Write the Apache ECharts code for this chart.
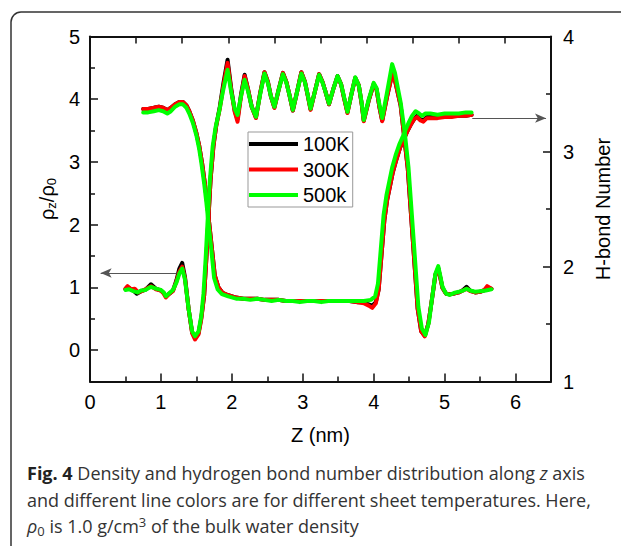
<!DOCTYPE html>
<html><head><meta charset="utf-8">
<script src="https://cdn.jsdelivr.net/npm/echarts@6/dist/echarts.min.js"></script>
<style>html,body{margin:0;padding:0;background:#fff}#c{width:621px;height:546px}</style>
</head><body><div id="c"></div>
<script>
// ---------- data ----------
const seriesNames = ['100K', '300K', '500k'];
const xLabels = [0, 1, 2, 3, 4, 5, 6];
const xMinor = [0.5, 1.5, 2.5, 3.5, 4.5, 5.5];
const leftLabels = [0, 1, 2, 3, 4, 5];
const leftMinor = [0.5, 1.5, 2.5, 3.5, 4.5];
const rightLabels = [1, 2, 3, 4];
const rightMinor = [1.5, 2.5, 3.5];

// density rho_z/rho_0 vs Z (nm)
const density500 = [[0.50,0.96],[0.55,0.97],[0.61,0.94],[0.67,0.92],[0.72,0.95],[0.78,0.96],[0.86,1.01],[0.93,0.98],[1.00,0.96],[1.04,0.92],[1.07,0.86],[1.12,0.91],[1.17,0.96],[1.22,1.08],[1.26,1.22],[1.30,1.30],[1.34,1.12],[1.39,0.66],[1.44,0.30],[1.48,0.22],[1.53,0.30],[1.57,0.55],[1.60,0.90],[1.63,1.45],[1.66,2.10],[1.69,2.70],[1.73,3.25],[1.77,3.55],[1.82,3.80],[1.87,4.10],[1.94,4.47],[1.99,4.12],[2.04,3.85],[2.08,3.75],[2.13,4.05],[2.18,4.31],[2.23,4.12],[2.28,3.88],[2.34,3.72],[2.40,4.08],[2.46,4.41],[2.51,4.25],[2.55,4.05],[2.60,3.88],[2.66,4.15],[2.72,4.40],[2.77,4.26],[2.81,4.08],[2.86,3.83],[2.92,4.12],[2.98,4.41],[3.03,4.27],[3.07,4.07],[3.11,3.85],[3.17,4.12],[3.23,4.39],[3.28,4.26],[3.32,4.12],[3.37,3.93],[3.43,4.16],[3.49,4.37],[3.54,4.24],[3.58,4.05],[3.63,3.80],[3.69,4.10],[3.74,4.35],[3.79,4.22],[3.83,3.95],[3.86,3.67],[3.93,4.00],[4.00,4.26],[4.04,4.18],[4.08,3.92],[4.12,3.70],[4.19,4.12],[4.26,4.56],[4.30,4.42],[4.34,4.18],[4.38,3.95],[4.44,3.45],[4.49,2.92],[4.54,2.13],[4.59,1.33],[4.63,0.69],[4.68,0.34],[4.73,0.24],[4.78,0.45],[4.82,0.80],[4.87,1.22],[4.91,1.34],[4.94,1.18],[4.97,1.01],[5.02,0.90],[5.07,0.88],[5.13,0.91],[5.20,0.93],[5.26,0.95],[5.31,0.98],[5.36,0.95],[5.43,0.93],[5.50,0.94],[5.58,0.95],[5.66,0.97]];
const density300 = [[0.50,0.98],[0.53,1.02],[0.58,0.97],[0.63,0.98],[0.68,0.92],[0.73,0.94],[0.78,0.97],[0.86,1.02],[0.93,0.97],[1.00,0.95],[1.04,0.90],[1.07,0.84],[1.12,0.90],[1.17,0.94],[1.22,1.10],[1.26,1.25],[1.30,1.33],[1.34,1.14],[1.39,0.66],[1.44,0.27],[1.48,0.17],[1.53,0.25],[1.57,0.50],[1.61,0.88],[1.64,1.45],[1.67,2.10],[1.70,2.72],[1.74,3.25],[1.78,3.58],[1.83,3.85],[1.88,4.20],[1.94,4.58],[1.99,4.15],[2.04,3.80],[2.08,3.64],[2.13,4.05],[2.18,4.37],[2.23,4.15],[2.28,3.88],[2.34,3.70],[2.40,4.10],[2.46,4.43],[2.51,4.27],[2.55,4.05],[2.60,3.86],[2.66,4.15],[2.72,4.42],[2.77,4.27],[2.81,4.08],[2.86,3.82],[2.92,4.12],[2.98,4.43],[3.03,4.28],[3.07,4.06],[3.11,3.83],[3.17,4.12],[3.23,4.40],[3.28,4.27],[3.32,4.12],[3.37,3.92],[3.43,4.16],[3.49,4.36],[3.54,4.24],[3.58,4.03],[3.63,3.78],[3.69,4.10],[3.74,4.34],[3.79,4.22],[3.83,3.93],[3.86,3.65],[3.93,3.98],[4.00,4.24],[4.04,4.16],[4.08,3.88],[4.12,3.65],[4.19,4.05],[4.26,4.39],[4.30,4.30],[4.34,4.10],[4.38,3.90],[4.43,3.40],[4.48,2.90],[4.53,2.10],[4.58,1.30],[4.62,0.66],[4.67,0.30],[4.72,0.22],[4.77,0.42],[4.82,0.80],[4.87,1.20],[4.91,1.30],[4.94,1.15],[4.97,0.99],[5.02,0.90],[5.07,0.89],[5.13,0.90],[5.20,0.92],[5.26,0.95],[5.31,0.98],[5.36,0.94],[5.43,0.92],[5.50,0.93],[5.56,0.96],[5.60,1.02],[5.66,0.98]];
const density100 = [[0.50,0.97],[0.55,0.99],[0.61,0.95],[0.66,0.90],[0.72,0.94],[0.78,0.96],[0.86,1.05],[0.93,0.98],[1.00,0.95],[1.04,0.91],[1.07,0.86],[1.12,0.90],[1.17,0.95],[1.22,1.12],[1.26,1.30],[1.30,1.39],[1.34,1.16],[1.39,0.66],[1.44,0.28],[1.48,0.20],[1.53,0.27],[1.57,0.52],[1.61,0.88],[1.64,1.45],[1.67,2.10],[1.70,2.72],[1.74,3.25],[1.78,3.58],[1.83,3.88],[1.88,4.25],[1.94,4.63],[1.99,4.18],[2.04,3.82],[2.08,3.68],[2.13,4.08],[2.18,4.39],[2.23,4.15],[2.28,3.88],[2.34,3.71],[2.40,4.10],[2.46,4.43],[2.51,4.27],[2.55,4.05],[2.60,3.87],[2.66,4.15],[2.72,4.42],[2.77,4.27],[2.81,4.08],[2.86,3.82],[2.92,4.12],[2.98,4.43],[3.03,4.28],[3.07,4.06],[3.11,3.84],[3.17,4.12],[3.23,4.40],[3.28,4.27],[3.32,4.12],[3.37,3.92],[3.43,4.16],[3.49,4.37],[3.54,4.24],[3.58,4.03],[3.63,3.79],[3.69,4.10],[3.74,4.34],[3.79,4.22],[3.83,3.93],[3.86,3.66],[3.93,3.98],[4.00,4.24],[4.04,4.16],[4.08,3.88],[4.12,3.66],[4.19,4.05],[4.26,4.40],[4.30,4.30],[4.34,4.10],[4.38,3.90],[4.43,3.40],[4.48,2.90],[4.53,2.10],[4.58,1.30],[4.62,0.66],[4.67,0.30],[4.72,0.23],[4.77,0.42],[4.82,0.80],[4.87,1.20],[4.91,1.31],[4.94,1.15],[4.97,0.99],[5.02,0.90],[5.07,0.89],[5.13,0.90],[5.20,0.92],[5.26,0.96],[5.31,1.01],[5.36,0.95],[5.43,0.92],[5.50,0.93],[5.58,0.96],[5.66,0.98]];

// H-bond number vs Z (nm)
const hbond500 = [[0.75,3.34],[0.82,3.34],[0.90,3.35],[0.97,3.36],[1.03,3.35],[1.09,3.33],[1.14,3.35],[1.20,3.39],[1.26,3.41],[1.31,3.41],[1.36,3.38],[1.40,3.33],[1.45,3.25],[1.50,3.14],[1.54,3.02],[1.57,2.90],[1.61,2.72],[1.64,2.56],[1.67,2.38],[1.71,2.15],[1.75,1.90],[1.80,1.80],[1.86,1.76],[1.95,1.74],[2.06,1.72],[2.16,1.72],[2.26,1.71],[2.36,1.72],[2.46,1.71],[2.56,1.70],[2.66,1.71],[2.76,1.70],[2.86,1.70],[2.96,1.69],[3.06,1.70],[3.16,1.70],[3.26,1.69],[3.36,1.70],[3.46,1.70],[3.56,1.70],[3.66,1.70],[3.76,1.70],[3.86,1.70],[3.96,1.71],[4.02,1.74],[4.06,1.85],[4.10,2.15],[4.14,2.45],[4.18,2.62],[4.22,2.74],[4.26,2.86],[4.31,2.97],[4.36,3.06],[4.41,3.13],[4.45,3.19],[4.50,3.26],[4.54,3.31],[4.59,3.35],[4.64,3.33],[4.68,3.31],[4.73,3.33],[4.80,3.33],[4.90,3.32],[5.00,3.33],[5.10,3.33],[5.20,3.33],[5.30,3.34],[5.38,3.34]];
const hbond300 = [[0.75,3.37],[0.82,3.37],[0.90,3.38],[0.97,3.39],[1.03,3.38],[1.09,3.36],[1.14,3.38],[1.20,3.41],[1.26,3.43],[1.31,3.43],[1.36,3.40],[1.40,3.35],[1.45,3.27],[1.50,3.16],[1.54,3.05],[1.58,2.90],[1.62,2.72],[1.65,2.56],[1.68,2.38],[1.72,2.15],[1.76,1.92],[1.81,1.82],[1.87,1.77],[1.95,1.75],[2.06,1.73],[2.16,1.72],[2.26,1.72],[2.36,1.72],[2.46,1.71],[2.56,1.71],[2.66,1.71],[2.76,1.70],[2.86,1.70],[2.96,1.70],[3.06,1.70],[3.16,1.70],[3.26,1.70],[3.36,1.70],[3.46,1.70],[3.56,1.70],[3.66,1.70],[3.76,1.69],[3.86,1.68],[3.93,1.66],[3.98,1.64],[4.03,1.68],[4.07,1.80],[4.11,2.10],[4.15,2.40],[4.19,2.58],[4.23,2.70],[4.27,2.82],[4.32,2.93],[4.37,3.03],[4.42,3.10],[4.47,3.17],[4.52,3.23],[4.57,3.28],[4.61,3.30],[4.66,3.27],[4.70,3.26],[4.75,3.29],[4.82,3.29],[4.90,3.29],[5.00,3.30],[5.10,3.30],[5.20,3.31],[5.30,3.31],[5.38,3.32]];
const hbond100 = [[0.75,3.37],[0.82,3.37],[0.90,3.38],[0.97,3.39],[1.03,3.38],[1.09,3.36],[1.14,3.38],[1.20,3.41],[1.26,3.43],[1.31,3.43],[1.36,3.40],[1.40,3.35],[1.45,3.27],[1.50,3.16],[1.54,3.05],[1.58,2.90],[1.62,2.72],[1.65,2.56],[1.68,2.38],[1.72,2.15],[1.76,1.92],[1.81,1.82],[1.87,1.77],[1.95,1.75],[2.06,1.73],[2.16,1.72],[2.26,1.72],[2.36,1.72],[2.46,1.71],[2.56,1.71],[2.66,1.71],[2.76,1.70],[2.86,1.70],[2.96,1.70],[3.06,1.70],[3.16,1.70],[3.26,1.70],[3.36,1.70],[3.46,1.70],[3.56,1.70],[3.66,1.70],[3.76,1.69],[3.86,1.69],[3.93,1.67],[3.98,1.66],[4.03,1.69],[4.07,1.80],[4.11,2.10],[4.15,2.40],[4.19,2.58],[4.23,2.70],[4.27,2.82],[4.32,2.93],[4.37,3.03],[4.42,3.10],[4.47,3.17],[4.52,3.23],[4.57,3.28],[4.61,3.31],[4.66,3.28],[4.70,3.27],[4.75,3.30],[4.82,3.30],[4.90,3.30],[5.00,3.30],[5.10,3.31],[5.20,3.31],[5.30,3.31],[5.38,3.32]];

// annotation arrows (data units)
const densityArrow = [[1.22, 1.23], [0.15, 1.23]];
const hbondArrow = [[5.39, 3.29], [6.43, 3.29]];

// ---------- chart ----------
const FONT = 'Liberation Sans, Arial, sans-serif';
const CAP = 'Open Sans, Noto Sans, sans-serif';
const CAPSIZE = 18;
const colors = ['#000000', '#ff0000', '#00ff00'];
const AX = { color: '#111', width: 2 };

function lineSeries(name, data, yIdx, color, z, extra) {
  return Object.assign({
    name, type: 'line', data, xAxisIndex: 0, yAxisIndex: yIdx,
    symbol: 'none', showSymbol: false, smooth: false, silent: true,
    lineStyle: { color, width: 4, join: 'round', cap: 'round' },
    itemStyle: { color }, z, animation: false
  }, extra || {});
}
function arrowMark(pts) {
  return { markLine: {
    silent: true, animation: false, symbol: ['none', 'arrow'], symbolSize: [7, 11],
    lineStyle: { color: '#555', width: 1, type: 'solid' }, label: { show: false },
    data: [[{ coord: pts[0] }, { coord: pts[1] }]]
  } };
}

const chart = echarts.init(document.getElementById('c'), null, { renderer: 'svg' });
chart.setOption({
  animation: false,
  backgroundColor: '#fff',
  grid: { left: 90, right: 68, top: 36.5, bottom: 164.5, containLabel: false },
  legend: {
    data: seriesNames, orient: 'vertical', left: 248, top: 132,
    icon: 'rect', itemWidth: 49, itemHeight: 4, itemGap: 5.5,
    padding: [2, 3, 2, 1], borderColor: '#999', borderWidth: 1, backgroundColor: '#fff',
    textStyle: { fontFamily: FONT, fontSize: 20, color: '#000', lineHeight: 20 },
    selectedMode: false
  },
  xAxis: [
    { type: 'value', position: 'bottom', min: 0, max: 6.5,
      name: 'Z (nm)', nameLocation: 'middle', nameGap: 43,
      nameTextStyle: { fontFamily: FONT, fontSize: 20, color: '#000' },
      axisLine: { onZero: false, lineStyle: AX },
      axisTick: { inside: true, length: 8, lineStyle: { color: '#111', width: 1.5 }, customValues: xLabels },
      axisLabel: { fontFamily: FONT, fontSize: 20, color: '#000', margin: 10, customValues: xLabels },
      splitLine: { show: false } },
    { type: 'value', position: 'bottom', min: 0, max: 6.5,
      axisLine: { show: false, onZero: false },
      axisTick: { inside: true, length: 5, lineStyle: { color: '#111', width: 1.5 }, customValues: xMinor },
      axisLabel: { show: false }, splitLine: { show: false } },
    { type: 'value', position: 'top', min: 0, max: 10, interval: 1,
      axisLine: { onZero: false, lineStyle: AX },
      axisTick: { inside: true, length: 7, lineStyle: { color: '#111', width: 1.5 } },
      axisLabel: { show: false }, splitLine: { show: false } }
  ],
  yAxis: [
    { type: 'value', position: 'left', min: -0.5, max: 5,
      name: '{r|ρ}{s|z}{r|/ρ}{s|0}', nameLocation: 'middle', nameGap: 32, nameRotate: 90,
      nameTextStyle: { fontFamily: FONT, fontSize: 20, color: '#000', padding: [0, 0, 0, 20],
        rich: { r: { fontFamily: FONT, fontSize: 20, color: '#000', lineHeight: 22, verticalAlign: 'middle' },
                s: { fontFamily: FONT, fontSize: 13, color: '#000', lineHeight: 12, verticalAlign: 'bottom' } } },
      axisLine: { onZero: false, lineStyle: AX },
      axisTick: { inside: true, length: 8, lineStyle: { color: '#111', width: 1.5 }, customValues: leftLabels },
      axisLabel: { fontFamily: FONT, fontSize: 20, color: '#000', margin: 10, customValues: leftLabels },
      splitLine: { show: false } },
    { type: 'value', position: 'left', min: -0.5, max: 5,
      axisLine: { show: false, onZero: false },
      axisTick: { inside: true, length: 5, lineStyle: { color: '#111', width: 1.5 }, customValues: leftMinor },
      axisLabel: { show: false }, splitLine: { show: false } },
    { type: 'value', position: 'right', min: 1, max: 4, interval: 1,
      name: 'H-bond Number', nameLocation: 'middle', nameGap: 42, nameRotate: 90,
      nameTextStyle: { fontFamily: FONT, fontSize: 20, color: '#000' },
      axisLine: { onZero: false, lineStyle: AX },
      axisTick: { inside: true, length: 8, lineStyle: { color: '#111', width: 1.5 }, customValues: rightLabels },
      axisLabel: { fontFamily: FONT, fontSize: 20, color: '#000', margin: 12, customValues: rightLabels },
      splitLine: { show: false } },
    { type: 'value', position: 'right', min: 1, max: 4,
      axisLine: { show: false, onZero: false },
      axisTick: { inside: true, length: 5, lineStyle: { color: '#111', width: 1.5 }, customValues: rightMinor },
      axisLabel: { show: false }, splitLine: { show: false } }
  ],
  series: [
    lineSeries(seriesNames[0], density100, 0, colors[0], 1),
    lineSeries(seriesNames[0], hbond100, 2, colors[0], 1),
    lineSeries(seriesNames[1], density300, 0, colors[1], 2),
    lineSeries(seriesNames[1], hbond300, 2, colors[1], 2),
    lineSeries(seriesNames[2], density500, 0, colors[2], 3, arrowMark(densityArrow)),
    lineSeries(seriesNames[2], hbond500, 2, colors[2], 3, arrowMark(hbondArrow))
  ],
  graphic: [
    { type: 'rect', silent: true, z: -10,
      shape: { x: 11, y: 12, width: 700, height: 600, r: 10 },
      style: { fill: 'none', stroke: '#333', lineWidth: 1.5 } },
    { type: 'text', silent: true, x: 27, y: 473,
      style: { text: '{b|Fig. 4} Density and hydrogen bond number distribution along {i|z} axis',
        fontFamily: CAP, fontSize: CAPSIZE, fill: '#333', verticalAlign: 'middle',
        rich: { b: { fontFamily: CAP, fontSize: CAPSIZE, fontWeight: 'bold', fill: '#222' },
                i: { fontFamily: CAP, fontSize: CAPSIZE, fontStyle: 'italic', fill: '#333' } } } },
    { type: 'text', silent: true, x: 27, y: 500,
      style: { text: 'and different line colors are for different sheet temperatures. Here,',
        fontFamily: CAP, fontSize: CAPSIZE, fill: '#333', verticalAlign: 'middle' } },
    { type: 'text', silent: true, x: 27, y: 526,
      style: { text: '{i|ρ}{sub|0}{n| is 1.0 g/cm}{sup|3}{n| of the bulk water density}',
        fontFamily: CAP, fontSize: CAPSIZE, fill: '#333', verticalAlign: 'middle',
        rich: { i: { fontFamily: CAP, fontSize: CAPSIZE, fontStyle: 'italic', fill: '#333', lineHeight: 22, verticalAlign: 'middle' },
                n: { fontFamily: CAP, fontSize: CAPSIZE, fill: '#333', lineHeight: 22, verticalAlign: 'middle' },
                sub: { fontFamily: CAP, fontSize: 13, fill: '#333', lineHeight: 12, verticalAlign: 'bottom' },
                sup: { fontFamily: CAP, fontSize: 13, fill: '#333', lineHeight: 12, verticalAlign: 'top' } } } }
  ]
});
</script></body></html>
